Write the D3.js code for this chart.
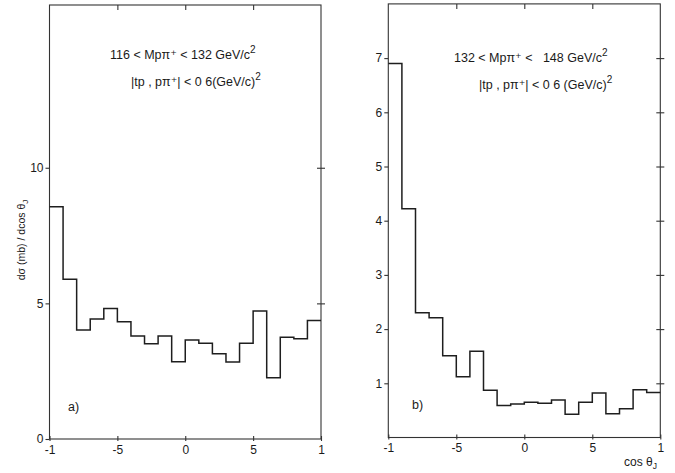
<!DOCTYPE html>
<html><head><meta charset="utf-8">
<script src="https://cdn.jsdelivr.net/npm/d3@7"></script>
<style>
body{margin:0;background:#fff;}
svg{display:block;}
text{font-family:"Liberation Sans","DejaVu Sans",sans-serif;fill:#1a1a1a;white-space:pre;}
</style></head><body>
<svg id="c" width="675" height="473"></svg>
<script>
// ---- data ----
const binEdges = [-1,-0.9,-0.8,-0.7,-0.6,-0.5,-0.4,-0.3,-0.2,-0.1,0,0.1,0.2,0.3,0.4,0.5,0.6,0.7,0.8,0.9,1];
const valuesA = [8.56,5.89,4.02,4.42,4.81,4.32,3.80,3.51,3.80,2.85,3.65,3.53,3.14,2.84,3.53,4.72,2.26,3.75,3.70,4.37];
const valuesB = [6.90,4.22,2.30,2.21,1.51,1.12,1.59,0.87,0.59,0.62,0.65,0.63,0.69,0.43,0.65,0.82,0.44,0.53,0.88,0.83];
const xTicks = [-1,-0.5,0,0.5,1];
const xTickLabels = ["-1","-5","0","5","1"];
const yTicksA = [0,5,10];
const yTickLabelsA = ["0","5","10"];
const yTicksB = [1,2,3,4,5,6,7];
const yTickLabelsB = ["1","2","3","4","5","6","7"];
const labelA1 = "116 < Mpπ⁺ < 132 GeV/c";
const labelA2 = "|tp , pπ⁺| < 0 6(GeV/c)";
const labelB1 = "132 < Mpπ⁺ <   148 GeV/c";
const labelB2 = "|tp , pπ⁺| < 0 6 (GeV/c)";

const svg = d3.select("#c");
const ink = "#1e1e1e";

function panel(opt){
  const x = d3.scaleLinear().domain([-1,1]).range([opt.x0, opt.x1]);
  const y = d3.scaleLinear().domain([0, opt.ymax]).range([opt.y0, opt.y1]);
  const g = svg.append("g");
  // frame
  g.append("rect").attr("x", x(-1)).attr("y", y(opt.ymax))
    .attr("width", x(1)-x(-1)).attr("height", y(0)-y(opt.ymax))
    .attr("fill","none").attr("stroke","#333").attr("stroke-width",1.1);
  // left axis
  const yl = g.append("g").attr("transform",`translate(${x(-1)},0)`)
    .call(d3.axisLeft(y).tickValues(opt.yTicks).tickSize(4).tickPadding(2)
      .tickFormat((d,i)=>opt.yLabels[i]));
  yl.select(".domain").remove();
  // right side ticks
  const yr = g.append("g").attr("transform",`translate(${x(1)},0)`)
    .call(d3.axisRight(y).tickValues(opt.yTicks.filter(v=>v>0)).tickSize(4).tickFormat(""));
  yr.select(".domain").remove();
  yr.selectAll(".tick line").attr("x1",-4);
  // bottom axis
  const xb = g.append("g").attr("transform",`translate(0,${y(0)})`)
    .call(d3.axisBottom(x).tickValues(xTicks).tickSize(3).tickPadding(3)
      .tickFormat((d,i)=>xTickLabels[i]));
  xb.select(".domain").remove();
  xb.selectAll(".tick line").attr("y1",-3).attr("y2",2);
  // top ticks
  const xt = g.append("g").attr("transform",`translate(0,${y(opt.ymax)})`)
    .call(d3.axisBottom(x).tickValues([-0.5,0,0.5]).tickSize(5).tickFormat(""));
  xt.select(".domain").remove();
  svg.selectAll(".tick line").attr("stroke","#333").attr("stroke-width",1.1);
  svg.selectAll(".tick text").attr("font-size",12).attr("fill",ink)
    .style("font-family",'"Liberation Sans","DejaVu Sans",sans-serif');
  // histogram
  const pts = opt.values.map((v,i)=>[binEdges[i], v]);
  pts.push([binEdges[binEdges.length-1], opt.values[opt.values.length-1]]);
  const line = d3.line().x(d=>x(d[0])).y(d=>y(d[1])).curve(d3.curveStepAfter);
  g.append("path").attr("d", line(pts)).attr("fill","none")
    .attr("stroke",ink).attr("stroke-width",1.5);
  // annotations
  const t1 = g.append("text").attr("x",opt.t1x).attr("y",opt.t1y).attr("font-size",12.5);
  t1.append("tspan").text(opt.l1);
  t1.append("tspan").attr("dy",-6).attr("font-size",10).text("2");
  const t2 = g.append("text").attr("x",opt.t2x).attr("y",opt.t2y).attr("font-size",12.5);
  t2.append("tspan").text(opt.l2);
  t2.append("tspan").attr("dy",-6).attr("font-size",10).text("2");
  g.append("text").attr("x",opt.tagx).attr("y",opt.tagy).attr("font-size",12.5).text(opt.tag);
  return {x,y};
}

panel({x0:49.5,x1:321,y0:439,y1:5,ymax:16,yTicks:yTicksA,yLabels:yTickLabelsA,values:valuesA,
  l1:labelA1,l2:labelA2,t1x:110,t1y:59,t2x:131,t2y:86,tag:"a)",tagx:68,tagy:411});
panel({x0:388.3,x1:660.3,y0:437.5,y1:3.9,ymax:8,yTicks:yTicksB,yLabels:yTickLabelsB,values:valuesB,
  l1:labelB1,l2:labelB2,t1x:454,t1y:62,t2x:479,t2y:89,tag:"b)",tagx:412,tagy:409});

// y-axis title
const yt = svg.append("text").attr("transform","translate(25,240) rotate(-90)")
  .attr("text-anchor","middle").attr("font-size",10.5);
yt.append("tspan").text("dσ (mb) / dcos θ");
yt.append("tspan").attr("dy",3).attr("font-size",8).text("J");
// x-axis title
const xt = svg.append("text").attr("x",624).attr("y",466).attr("font-size",12);
xt.append("tspan").text("cos θ");
xt.append("tspan").attr("dy",3).attr("font-size",8.5).text("J");
</script></body></html>
